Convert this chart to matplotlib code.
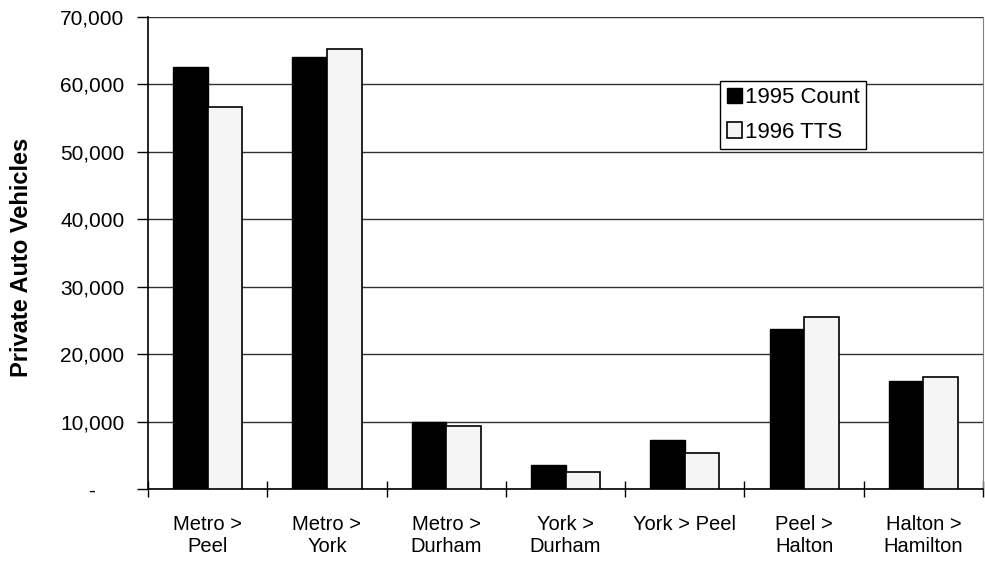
import matplotlib.pyplot as plt
import numpy as np
from matplotlib.ticker import FuncFormatter, FixedLocator

plt.rcParams['font.family'] = ['Liberation Sans', 'DejaVu Sans']

# screenline crossings
routes = ['Metro >\nPeel', 'Metro >\nYork', 'Metro >\nDurham', 'York >\nDurham',
          'York > Peel', 'Peel >\nHalton', 'Halton >\nHamilton']
count_1995 = [62600, 64100, 10000, 3600, 7300, 23800, 16000]
tts_1996 = [56600, 65200, 9300, 2500, 5300, 25500, 16600]

fig = plt.figure(figsize=(9.85, 5.61), dpi=100)
ax = fig.add_axes([0.1503, 0.1283, 0.8477, 0.8414])

x = np.arange(len(routes))
w = 0.29
ax.bar(x - w / 2, count_1995, w, color='black', edgecolor='black', lw=1,
       label='1995 Count', zorder=3)
ax.bar(x + w / 2, tts_1996, w, color='#f5f5f5', edgecolor='black', lw=1.2,
       label='1996 TTS', zorder=3)

ax.set_xlim(-0.5, len(routes) - 0.5)
ax.set_ylim(0, 70000)
ax.set_yticks(np.arange(0, 70001, 10000))
# accounting-style zero
ax.yaxis.set_major_formatter(FuncFormatter(lambda v, p: '-     ' if v == 0 else f'{v:,.0f}'))
ax.yaxis.grid(True, color='#303030', lw=1)
ax.set_axisbelow(True)

# ticks at category boundaries, labels at centres
ax.xaxis.set_major_locator(FixedLocator(np.arange(-0.5, len(routes))))
ax.xaxis.set_minor_locator(FixedLocator(x))
ax.set_xticklabels([''] * (len(routes) + 1))
ax.set_xticklabels(routes, minor=True)
ax.tick_params(axis='x', which='major', direction='inout', length=12, width=1)
ax.tick_params(axis='x', which='minor', length=0, pad=19, labelsize=14.5)
ax.tick_params(axis='y', direction='out', length=8, width=1, labelsize=15, pad=9)

ax.spines['top'].set_visible(False)
ax.spines['right'].set_color('#808080')
ax.spines['left'].set_linewidth(1.2)
ax.spines['bottom'].set_linewidth(1.2)

ax.set_ylabel('Private Auto Vehicles', fontsize=17, fontweight='bold')
ax.yaxis.set_label_coords(-0.138, 0.49)

leg = ax.legend(loc='upper left', bbox_to_anchor=(0.685, 0.865), fontsize=16,
                frameon=True, fancybox=False, edgecolor='black', framealpha=1,
                handlelength=0.7, handleheight=0.7, handletextpad=0.12,
                borderpad=0.3, labelspacing=0.6, borderaxespad=0)
leg.get_frame().set_linewidth(1)

fig.savefig('out.png', dpi=100)
